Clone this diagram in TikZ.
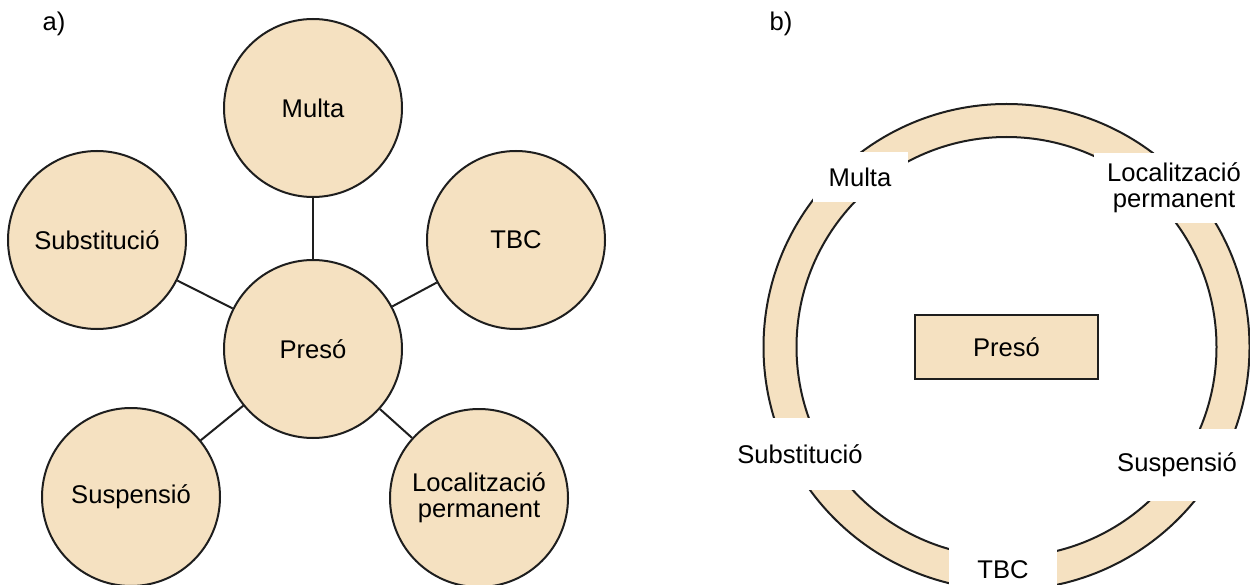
\documentclass[tikz,border=0pt]{standalone}
\usepackage{fontspec}
\setmainfont{Liberation Sans}
\definecolor{beige}{RGB}{245,225,193}
\definecolor{ink}{RGB}{30,30,30}
\begin{document}
\begin{tikzpicture}[x=1pt,y=-1pt,
  every node/.style={font=\fontsize{25.6}{26}\selectfont, text=black},
  bubble/.style={circle, draw=ink, line width=2pt, fill=beige, minimum size=178pt, inner sep=0pt, align=center},
  link/.style={draw=ink, line width=2pt},
  ringlabel/.style={fill=white, inner sep=0pt, align=center},
  centrebox/.style={draw=ink, line width=2pt, fill=beige, minimum width=183pt, minimum height=64pt, inner sep=0pt}
]
\useasboundingbox (0,0) rectangle (1250,585);

% ---------- a) ----------
\node (la) at (54,24) {a)};
\node[bubble] (presoA) at (313,349) {Presó};
\node[bubble] (multaA) at (313,108) {Multa};
\node[bubble] (substA) at (97,240) {Substitució};
\node[bubble] (tbcA) at (516,240) {TBC};
\node[bubble] (suspA) at (131,497) {Suspensió};
\node[bubble] (locA) at (479,498) {Localització\\permanent};
\draw[link] (presoA) -- (multaA);
\draw[link] (presoA) -- (substA);
\draw[link] (presoA) -- (tbcA);
\draw[link] (presoA) -- (suspA);
\draw[link] (presoA) -- (locA);

% ---------- b) ----------
\node (lb) at (781,24) {b)};
\coordinate (ringc) at (1006.5,347);
\fill[beige, even odd rule] (ringc) circle (243pt) (ringc) circle (210pt);
\draw[ink, line width=2pt] (ringc) circle (243pt);
\draw[ink, line width=2pt] (ringc) circle (210pt);
\node[centrebox] (presoB) at (ringc) {Presó};
\node[ringlabel, minimum width=95pt, minimum height=50pt] (multaB) at (860,177) {Multa};
\node[ringlabel, minimum width=160pt, minimum height=70pt] (locB) at (1174,188) {Localització\\permanent};
\node[ringlabel, minimum width=130pt, minimum height=72pt] (substB) at (800,454) {Substitució};
\node[ringlabel, minimum width=145pt, minimum height=72pt] (suspB) at (1177,465) {Suspensió};
\node[ringlabel, minimum width=108pt, minimum height=44pt] (tbcB) at (1003,570) {TBC};
\end{tikzpicture}
\end{document}
